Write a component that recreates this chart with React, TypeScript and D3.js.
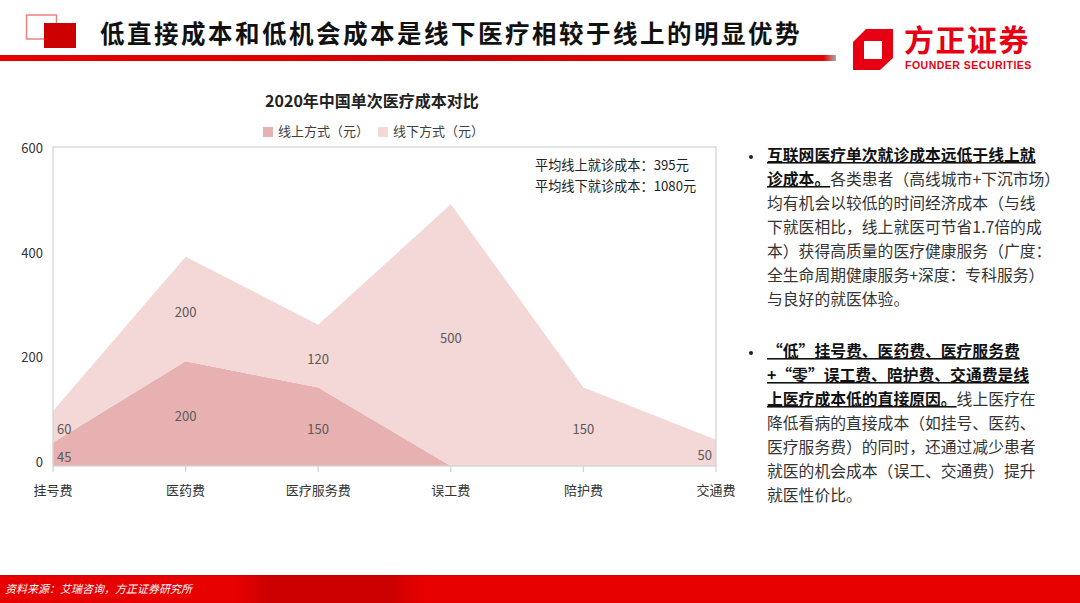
import React from "react";
import * as d3 from "d3";

const categories = ["挂号费", "医药费", "医疗服务费", "误工费", "陪护费", "交通费"];
const onlineValues = [45, 200, 150, 0, 0, 0];
const offlineValues = [60, 200, 120, 500, 150, 50];
const seriesNames = ["线上方式（元）", "线下方式（元）"];
const yTicks = [0, 200, 400, 600];
const notes = ["平均线上就诊成本：395元", "平均线下就诊成本：1080元"];

const para1: { b?: string; n?: string }[] = [
  { b: "互联网医疗单次就诊成本远低于线上就" },
  { b: "诊成本。", n: "各类患者（高线城市+下沉市场）" },
  { n: "均有机会以较低的时间经济成本（与线" },
  { n: "下就医相比，线上就医可节省1.7倍的成" },
  { n: "本）获得高质量的医疗健康服务（广度：" },
  { n: "全生命周期健康服务+深度：专科服务）" },
  { n: "与良好的就医体验。" },
];
const para2: { b?: string; n?: string }[] = [
  { b: "“低”挂号费、医药费、医疗服务费" },
  { b: "+“零”误工费、陪护费、交通费是线" },
  { b: "上医疗成本低的直接原因。", n: "线上医疗在" },
  { n: "降低看病的直接成本（如挂号、医药、" },
  { n: "医疗服务费）的同时，还通过减少患者" },
  { n: "就医的机会成本（误工、交通费）提升" },
  { n: "就医性价比。" },
];

const FONT = "'Noto Sans CJK SC', 'Noto Sans', sans-serif";
const C_ON = "#e8b1b1";
const C_OFF = "#f4d7d7";

export default function App() {
  const W = 1080, H = 603;
  const x = d3.scalePoint<string>().domain(categories).range([53, 716]).padding(0);
  const y = d3.scaleLinear().domain([0, 600]).range([466, 152]);
  const frameTop = 147;
  const base = y(0);

  const rows = categories.map((c, i) => ({ cat: c, on: onlineValues[i], off: offlineValues[i] }));
  const stack = d3.stack<any>().keys(["on", "off"])(rows);
  const area = d3
    .area<any>()
    .x((d) => x(d.data.cat) as number)
    .y0((d) => y(d[0]))
    .y1((d) => y(d[1]));

  const colors = [C_ON, C_OFF];

  const renderPara = (lines: { b?: string; n?: string }[], y0: number) =>
    lines.map((l, i) => (
      <text key={i} x={767} y={y0 + i * 24} fontSize={15.8} fontFamily={FONT} fill="#333" dominantBaseline="middle">
        {l.b && (
          <tspan fontWeight="bold" fill="#111" textDecoration="underline">
            {l.b}
          </tspan>
        )}
        {l.n && <tspan>{l.n}</tspan>}
      </text>
    ));

  return (
    <svg width={W} height={H} style={{ position: "absolute", left: 0, top: 0, background: "#fff" }}>
      <defs>
        <linearGradient id="hline" x1="0" x2="1" y1="0" y2="0">
          <stop offset="0" stopColor="#e60000" />
          <stop offset="0.35" stopColor="#e00000" />
          <stop offset="0.55" stopColor="#c80000" />
          <stop offset="0.75" stopColor="#e60000" />
          <stop offset="0.985" stopColor="#e60000" />
          <stop offset="1" stopColor="#aaaaaa" />
        </linearGradient>
        <linearGradient id="fband" x1="0" x2="1" y1="0" y2="0">
          <stop offset="0" stopColor="#e60000" />
          <stop offset="0.22" stopColor="#e60000" />
          <stop offset="0.25" stopColor="#cc0000" />
          <stop offset="0.36" stopColor="#cc0000" />
          <stop offset="0.39" stopColor="#e60000" />
          <stop offset="1" stopColor="#e60000" />
        </linearGradient>
      </defs>

      {/* header */}
      <rect x={26.5} y={15} width={30} height={24} fill="none" stroke="#ee8080" strokeWidth={1.5} />
      <rect x={44} y={23} width={32} height={25} fill="#cc0000" />
      <text x={100} y={36} fontSize={24.5} fontWeight="bold" fontFamily={FONT} fill="#111" dominantBaseline="middle" letterSpacing={2.5}>
        低直接成本和低机会成本是线下医疗相较于线上的明显优势
      </text>
      <rect x={0} y={55} width={836} height={6} fill="url(#hline)" />

      {/* logo */}
      <path d="M866,29 L893,29 L893,58 L880,70 L853,70 L853,42 Z M864,41 L864,59 L882,59 L882,41 Z" fill="#e60012" fillRule="evenodd" />
      <text x={904} y={43} fontSize={30} fontWeight="bold" fontFamily={FONT} fill="#e60012" dominantBaseline="middle" letterSpacing={1.5}>
        方正证券
      </text>
      <text x={905} y={66} fontSize={10.5} fontWeight="bold" fontFamily="'Liberation Sans', Arial, sans-serif" fill="#e60012" dominantBaseline="middle" letterSpacing={0.5}>
        FOUNDER SECURITIES
      </text>

      {/* chart title & legend */}
      <text x={372} y={103} fontSize={16} fontWeight="bold" fontFamily={FONT} fill="#222" textAnchor="middle" dominantBaseline="middle">
        2020年中国单次医疗成本对比
      </text>
      {seriesNames.map((n, i) => (
        <g key={n} transform={`translate(${263 + i * 115},132)`}>
          <rect x={0} y={-5} width={10} height={10} fill={colors[i]} />
          <text x={15} y={0} fontSize={13} fontFamily={FONT} fill="#404040" dominantBaseline="middle">
            {n}
          </text>
        </g>
      ))}

      {/* areas */}
      {stack.map((s, i) => (
        <path key={i} d={area(s as any) || ""} fill={colors[i]} />
      ))}

      {/* frame */}
      <rect x={53} y={frameTop} width={663} height={base - frameTop} fill="none" stroke="#d4d4d4" strokeWidth={1.3} />
      {categories.map((c) => (
        <line key={c} x1={x(c)} x2={x(c)} y1={base} y2={base + 6} stroke="#d4d4d4" strokeWidth={1.3} />
      ))}

      {/* y ticks */}
      {yTicks.map((t) => (
        <text key={t} x={43} y={y(t) - 2.5} fontSize={13} fontFamily={FONT} fill="#333" textAnchor="end" dominantBaseline="middle">
          {t}
        </text>
      ))}
      {/* x labels */}
      {categories.map((c) => (
        <text key={c} x={x(c)} y={491} fontSize={13} fontFamily={FONT} fill="#333" textAnchor="middle" dominantBaseline="middle">
          {c}
        </text>
      ))}

      {/* data labels */}
      {stack.map((s, si) =>
        s.map((d: any, i: number) => {
          const v = d[1] - d[0];
          if (v <= 0) return null;
          const last = i === categories.length - 1;
          const first = i === 0;
          const xx = (x(categories[i]) as number) + (first ? 4 : last ? -4 : 0);
          const anchor = first ? "start" : last ? "end" : "middle";
          return (
            <text key={`${si}-${i}`} x={xx} y={(y(d[0]) + y(d[1])) / 2 + 4} fontSize={13} fontFamily={FONT} fill="#595959" textAnchor={anchor} dominantBaseline="middle">
              {v}
            </text>
          );
        })
      )}

      {/* notes */}
      {notes.map((n, i) => (
        <text key={n} x={535} y={166 + i * 21} fontSize={13.2} fontFamily={FONT} fill="#222" dominantBaseline="middle">
          {n}
        </text>
      ))}

      {/* right text */}
      <circle cx={751} cy={157} r={2} fill="#222" />
      {renderPara(para1, 157)}
      <circle cx={751} cy={353} r={2} fill="#222" />
      {renderPara(para2, 353)}

      {/* footer */}
      <rect x={0} y={575} width={W} height={28} fill="url(#fband)" />
      <rect x={0} y={575} width={W} height={1} fill="#c00000" opacity={0.5} />
      <text x={5} y={590} fontSize={11} fontStyle="italic" fontFamily={FONT} fill="#fff" dominantBaseline="middle">
        资料来源：艾瑞咨询，方正证券研究所
      </text>
    </svg>
  );
}
